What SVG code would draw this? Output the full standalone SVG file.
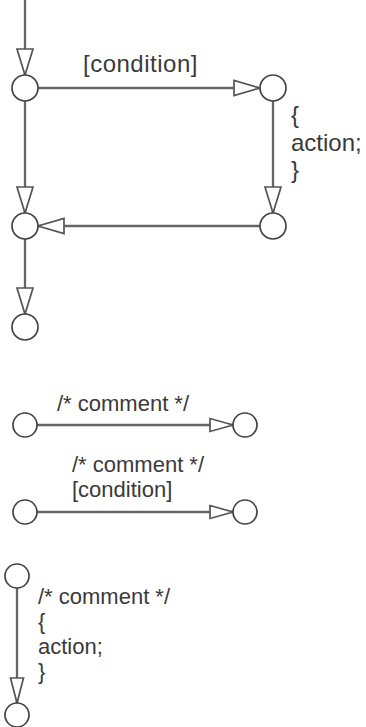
<svg xmlns="http://www.w3.org/2000/svg" width="366" height="727" viewBox="0 0 366 727">
<style>
.n{fill:#fff;stroke:#444;stroke-width:1.7}
.e{fill:none;stroke:#666;stroke-width:2.3}
.a{fill:#fff;stroke:#555;stroke-width:1.7}
.t{font-family:"Liberation Sans",Arial,sans-serif;font-size:22px;fill:#3a3a3a}
.b{font-size:24px}
</style>
<rect width="366" height="727" fill="#fff"/>
<g id="edges">
<line class="e" x1="25" y1="0" x2="25" y2="75"/>
<polygon class="a" points="17,49 33,49 25,75"/>
<line class="e" x1="38" y1="88" x2="260" y2="88"/>
<polygon class="a" points="234,80.5 234,95.5 260,88"/>
<line class="e" x1="273" y1="101" x2="273" y2="213"/>
<polygon class="a" points="265,187 281,187 273,213"/>
<line class="e" x1="260" y1="226" x2="38" y2="226"/>
<polygon class="a" points="64,218.5 64,233.5 38,226"/>
<line class="e" x1="25" y1="101" x2="25" y2="213"/>
<polygon class="a" points="17,187 33,187 25,213"/>
<line class="e" x1="25" y1="239" x2="25" y2="314"/>
<polygon class="a" points="17,288 33,288 25,314"/>
<line class="e" x1="37" y1="425" x2="233" y2="425"/>
<polygon class="a" points="210,418.5 210,431.5 233,425"/>
<line class="e" x1="37" y1="512" x2="233" y2="512"/>
<polygon class="a" points="210,505.5 210,518.5 233,512"/>
<line class="e" x1="17" y1="588" x2="17" y2="703"/>
<polygon class="a" points="10.5,678 23.5,678 17,703"/>
</g>
<g id="n1"><circle class="n" cx="25" cy="88" r="13"/></g>
<g id="n2"><circle class="n" cx="273" cy="88" r="13"/></g>
<g id="n3"><circle class="n" cx="273" cy="226" r="13"/></g>
<g id="n4"><circle class="n" cx="25" cy="226" r="13"/></g>
<g id="n5"><circle class="n" cx="25" cy="327" r="13"/></g>
<g id="n6"><circle class="n" cx="25" cy="425" r="12"/></g>
<g id="n7"><circle class="n" cx="245" cy="425" r="12"/></g>
<g id="n8"><circle class="n" cx="25" cy="512" r="12"/></g>
<g id="n9"><circle class="n" cx="245" cy="512" r="12"/></g>
<g id="n10"><circle class="n" cx="17" cy="576" r="12"/></g>
<g id="n11"><circle class="n" cx="17" cy="715" r="12"/></g>
<g id="labels">
<text class="t b" x="83" y="72" letter-spacing="0.5">[condition]</text>
<text class="t b" x="291" y="123">{</text>
<text class="t b" x="291" y="151">action;</text>
<text class="t b" x="291" y="178">}</text>
<text class="t" x="57" y="411">/* comment */</text>
<text class="t" x="72" y="472">/* comment */</text>
<text class="t" x="72" y="497">[condition]</text>
<text class="t" x="38" y="604">/* comment */</text>
<text class="t" x="38" y="629">{</text>
<text class="t" x="38" y="654">action;</text>
<text class="t" x="38" y="679">}</text>
</g>
</svg>
